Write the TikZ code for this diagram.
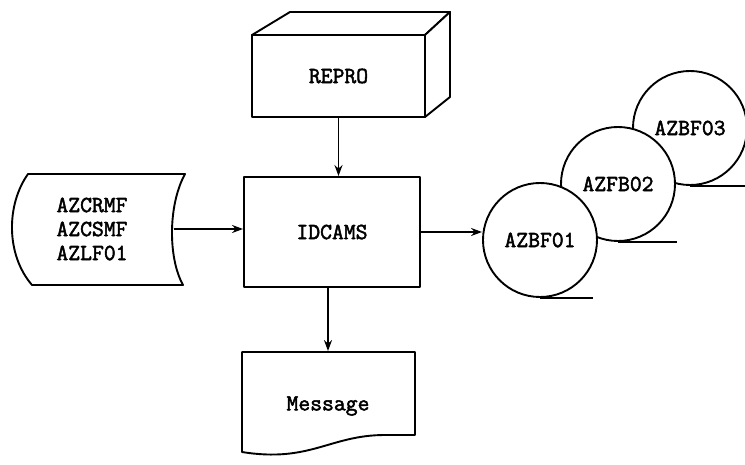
\documentclass[tikz,border=0pt]{standalone}
\usepackage{fontspec}
\setmonofont[AutoFakeBold=2.2]{Latin Modern Mono}
\usetikzlibrary{arrows.meta}
\begin{document}
\begin{tikzpicture}[x=1pt,y=-1pt, line width=1.9pt, line join=round,
  lbl/.style={font=\ttfamily\bfseries\fontsize{23}{24}\selectfont, align=center, inner sep=0pt},
  arr/.style={-{Stealth[length=11pt,width=8pt]}, line width=1.8pt},
  tape/.style={draw, circle, fill=white, minimum size=114pt, lbl}]
\useasboundingbox (0,0) rectangle (745,465);
% REPRO 3D box
\draw[fill=white] (252,35) -- (290,12) -- (450,12) -- (425,35) -- cycle;
\draw[fill=white] (425,35) -- (450,12) -- (450,97) -- (425,117) -- cycle;
\node[draw, fill=white, minimum width=173pt, minimum height=82pt, lbl] (repro) at (338.5,76) {REPRO};
% IDCAMS
\node[draw, minimum width=176pt, minimum height=110pt, lbl] (idcams) at (332,232) {IDCAMS};
% stored data
\draw (28,174) -- (185,174) .. controls (168,205) and (168,258) .. (183,285)
      -- (32,285) .. controls (6,255) and (6,205) .. (28,174) -- cycle;
\node[lbl, minimum width=162pt] (src) at (92,229) {AZCRMF\\AZCSMF\\AZLF01};
% Message document
\draw (242,352) -- (415,352) -- (415,435) -- (385,435)
      .. controls (330,435) and (310,463) .. (242,452) -- cycle;
\node[lbl, minimum width=173pt, minimum height=108pt] (msg) at (328,406) {Message};
% tapes
\node[tape] (t3) at (690,128) {AZBF03};
\draw (t3.south) -- (745,186);
\node[tape] (t2) at (618,184) {AZFB02};
\draw (t2.south) -- ++(59,0);
\node[tape] (t1) at (540,240) {AZBF01};
\draw (t1.south) -- ++(53,0);
% connectors
\draw[arr] (repro.south) -- (repro.south |- idcams.north);
\draw[arr] (src.east) -- (idcams.west |- src.east);
\draw[arr] (msg.north |- idcams.south) -- (msg.north);
\draw[arr] (idcams.east) -- (idcams.east -| t1.west);
\end{tikzpicture}
\end{document}
